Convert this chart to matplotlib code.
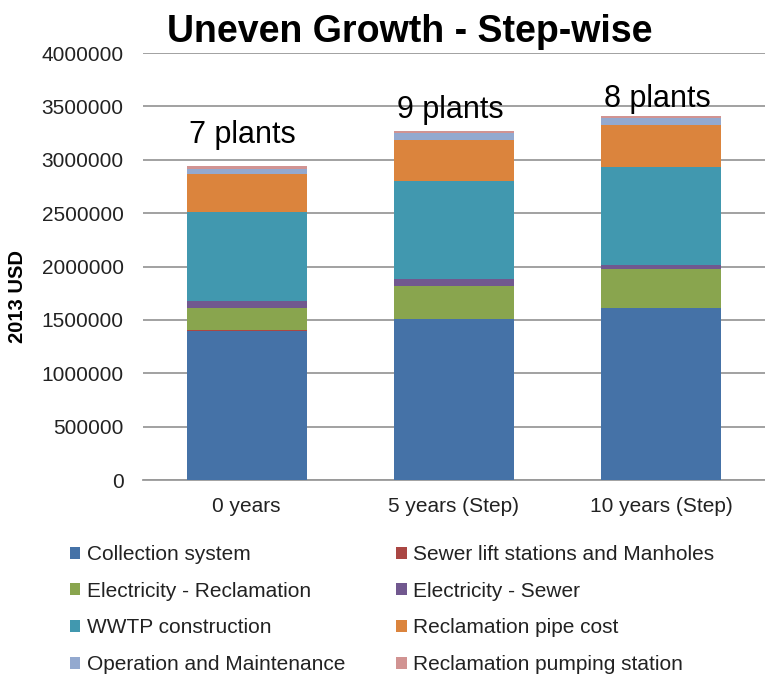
import matplotlib
matplotlib.use("Agg")
import matplotlib.pyplot as plt
from matplotlib.patches import Patch
import numpy as np

plt.rcParams['font.family'] = ['Liberation Sans', 'DejaVu Sans']

categories = ["0 years", "5 years (Step)", "10 years (Step)"]
plant_labels = ["7 plants", "9 plants", "8 plants"]
plant_label_y = [3157000, 3390000, 3490000]

collection_system = [1400000, 1505000, 1608000]
sewer_lift_manholes = [3000, 3000, 3000]
electricity_reclamation = [209000, 312000, 368000]
electricity_sewer = [68000, 66000, 37000]
wwtp_construction = [834000, 918000, 915000]
reclamation_pipe = [353000, 384000, 393000]
operation_maintenance = [50000, 63000, 66000]
reclamation_pumping = [22000, 22000, 22000]

series_names = ["Collection system", "Sewer lift stations and Manholes",
                "Electricity - Reclamation", "Electricity - Sewer",
                "WWTP construction", "Reclamation pipe cost",
                "Operation and Maintenance", "Reclamation pumping station"]
series_values = [collection_system, sewer_lift_manholes, electricity_reclamation,
                 electricity_sewer, wwtp_construction, reclamation_pipe,
                 operation_maintenance, reclamation_pumping]
series_colors = ["#4572A7", "#AA4643", "#89A54E", "#71588F",
                 "#4198AF", "#DB843D", "#93A9CF", "#D19392"]

fig = plt.figure(figsize=(7.65, 6.75), dpi=100)
ax = fig.add_axes([143 / 765, 1 - 480 / 675, 622 / 765, 427 / 675])

x = np.arange(len(categories))
bottom = np.zeros(len(categories))
for vals, color in zip(series_values, series_colors):
    v = np.array(vals, dtype=float)
    ax.bar(x, v, bottom=bottom, width=0.58, color=color, edgecolor='none', zorder=3)
    bottom += v

ax.set_xlim(-0.5, len(categories) - 0.5)
ax.set_ylim(0, 4000000)
ax.set_yticks(np.arange(0, 4000001, 500000))
ax.set_yticklabels([str(int(t)) for t in np.arange(0, 4000001, 500000)])
ax.yaxis.grid(True, color='#9a9a9a', linewidth=1.3, zorder=0)
ax.set_axisbelow(True)
for side in ['left', 'right', 'top']:
    ax.spines[side].set_visible(False)
ax.spines['bottom'].set_color('#9a9a9a')
ax.spines['bottom'].set_linewidth(1.3)
ax.tick_params(axis='y', length=0, pad=14, labelsize=15, labelcolor='#222222')
ax.tick_params(axis='x', length=0, pad=12, labelsize=15, labelcolor='#222222')
ax.set_xticks(x)
ax.set_xticklabels(categories)

for xi, lab, yy in zip(x, plant_labels, plant_label_y):
    ax.text(xi - 0.02, yy, lab, ha='center', va='baseline', fontsize=22, color='black', zorder=4)

fig.text(18 / 765, 1 - 297 / 675, "2013 USD", rotation=90, ha='center', va='center',
         fontsize=14.5, fontweight='bold')
fig.text(410 / 765, 1 - 42 / 675, "Uneven Growth - Step-wise", ha='center', va='baseline',
         fontsize=27, fontweight='bold')

handles = [Patch(facecolor=c, edgecolor='none', label=n) for n, c in zip(series_names, series_colors)]
order = [0, 2, 4, 6, 1, 3, 5, 7]
fig.legend([handles[i] for i in order], [series_names[i] for i in order],
           loc='upper left', bbox_to_anchor=(70 / 765, 1 - 545 / 675), ncol=2,
           frameon=False, fontsize=15, handlelength=0.5, handleheight=0.5,
           handletextpad=0.3, labelspacing=0.85, columnspacing=2.45,
           borderpad=0, borderaxespad=0, labelcolor='#222222')

fig.savefig("out.png", dpi=100)
